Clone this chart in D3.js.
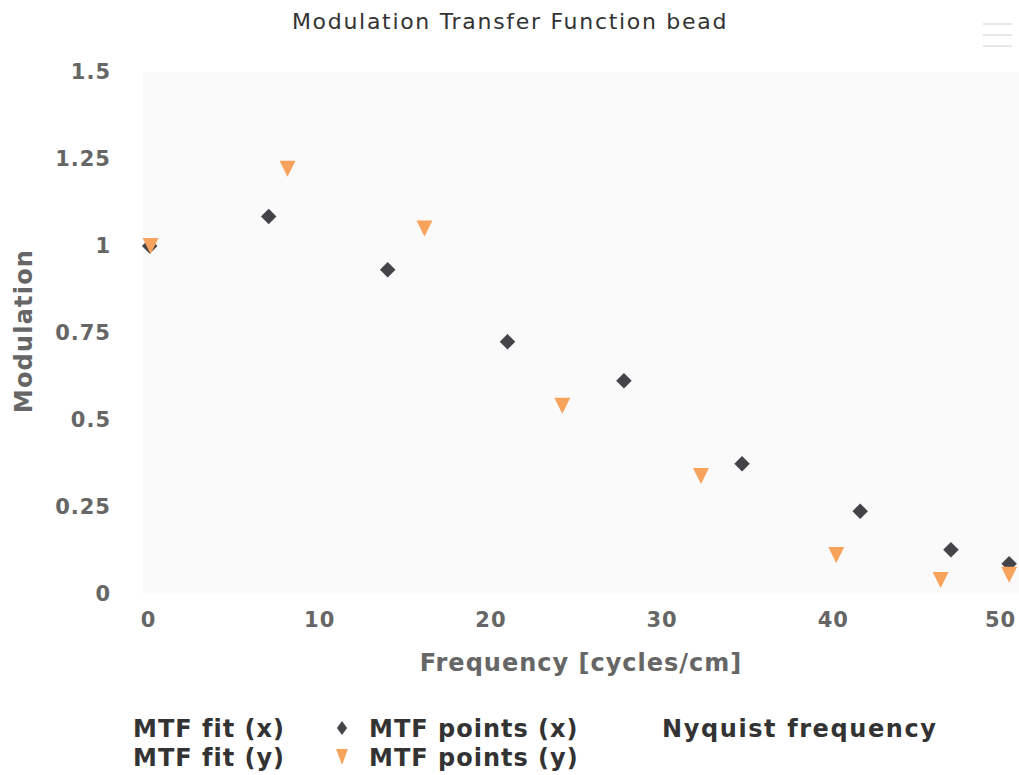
<!DOCTYPE html>
<html>
<head>
<meta charset="utf-8">
<script src="https://cdn.jsdelivr.net/npm/d3@7"></script>
<style>
  body { margin: 0; background: #fff; }
  svg { font-family: "DejaVu Sans", sans-serif; display: block; }
</style>
</head>
<body>
<svg id="chart" width="1019" height="775"></svg>
<script>
// data
var freqX = [0.1, 7.05, 14.0, 21.0, 27.8, 34.7, 41.6, 46.9, 50.3];
var modX  = [1.0, 1.085, 0.932, 0.725, 0.613, 0.374, 0.238, 0.127, 0.087];
var freqY = [0.15, 8.15, 16.15, 24.2, 32.3, 40.2, 46.3, 50.3];
var modY  = [1.0, 1.222, 1.05, 0.541, 0.339, 0.112, 0.04, 0.055];
var yTicks = [0, 0.25, 0.5, 0.75, 1, 1.25, 1.5];
var xTicks = [0, 10, 20, 30, 40, 50];
var legendItems = [
    {name: "MTF fit (x)", symbol: null, col: 0, row: 0},
    {name: "MTF points (x)", symbol: "diamond", col: 1, row: 0},
    {name: "Nyquist frequency", symbol: null, col: 2, row: 0},
    {name: "MTF fit (y)", symbol: null, col: 0, row: 1},
    {name: "MTF points (y)", symbol: "triangle", col: 1, row: 1}
];

var svg = d3.select("#chart"),
    colorX = "#434348", //dark diamonds
    colorY = "#f7a35c", //orange triangles
    plotTop = 72,
    plotBottom = 594,
    plotLeft = 143,
    plotRight = 1019;

var x = d3.scaleLinear().domain([0, 50]).range([148, 1004]);
var y = d3.scaleLinear().domain([0, 1.5]).range([plotBottom, plotTop]);

//plot background
svg.append("rect")
    .attr("x", plotLeft).attr("y", plotTop)
    .attr("width", plotRight - plotLeft).attr("height", plotBottom - plotTop)
    .attr("fill", "#fafafa");

//title
svg.append("text")
    .attr("x", 510).attr("y", 29)
    .attr("text-anchor", "middle")
    .attr("font-size", 22).attr("letter-spacing", 1.7).attr("fill", "#333")
    .text("Modulation Transfer Function bead");

//menu icon
[24, 35, 46].forEach(function (ly) {
    svg.append("line")
        .attr("x1", 983).attr("x2", 1012).attr("y1", ly).attr("y2", ly)
        .attr("stroke", "#d0d0d0").attr("stroke-width", 1);
});

//y axis
var yAxis = svg.append("g")
    .attr("transform", "translate(111,0)")
    .call(d3.axisLeft(y).tickValues(yTicks).tickSize(0).tickPadding(0)
        .tickFormat(function (d) { return String(d); }));
yAxis.select(".domain").remove();
yAxis.selectAll("text")
    .attr("font-family", "DejaVu Sans, sans-serif")
    .attr("font-size", 21).attr("font-weight", "bold").attr("letter-spacing", 1)
    .attr("fill", "#666");

//x axis (last label kept inside the chart)
var xAxis = svg.append("g")
    .attr("transform", "translate(0,612)")
    .call(d3.axisBottom(x).tickValues(xTicks).tickSize(0).tickPadding(0));
xAxis.select(".domain").remove();
xAxis.selectAll("text")
    .attr("font-family", "DejaVu Sans, sans-serif")
    .attr("font-size", 21).attr("font-weight", "bold").attr("letter-spacing", 1)
    .attr("fill", "#666")
    .attr("dx", function (d) { return d === 50 ? -4 : 0; });

//axis titles
svg.append("text")
    .attr("x", 581).attr("y", 671)
    .attr("text-anchor", "middle")
    .attr("font-size", 24).attr("font-weight", "bold").attr("letter-spacing", 1)
    .attr("fill", "#666")
    .text("Frequency [cycles/cm]");

svg.append("text")
    .attr("transform", "translate(32,331) rotate(-90)")
    .attr("text-anchor", "middle")
    .attr("font-size", 24).attr("font-weight", "bold").attr("letter-spacing", 1.2)
    .attr("fill", "#666")
    .text("Modulation");

//markers
var diamond = d3.symbol().type(d3.symbolSquare).size(120);
function triPath(cx, cy) {
    return "M" + (cx - 8) + "," + (cy - 8) + "L" + (cx + 8) + "," + (cy - 8) + "L" + cx + "," + (cy + 8) + "Z";
}

svg.append("g").selectAll("path")
    .data(freqX.map(function (f, i) { return [f, modX[i]]; }))
    .join("path")
    .attr("d", diamond)
    .attr("transform", function (d) { return "translate(" + x(d[0]) + "," + y(d[1]) + ") rotate(45)"; })
    .attr("fill", colorX);

svg.append("g").selectAll("path")
    .data(freqY.map(function (f, i) { return [f, modY[i]]; }))
    .join("path")
    .attr("d", function (d) { return triPath(x(d[0]), y(d[1])); })
    .attr("fill", colorY);

//legend
var colX = [133, 342, 662], rowY = [737, 766];
var leg = svg.append("g");
legendItems.forEach(function (it) {
    var lx = colX[it.col], ly = rowY[it.row];
    var tx = it.symbol ? lx + 27 : lx;
    if (it.symbol === "diamond") {
        leg.append("path")
            .attr("d", d3.symbol().type(d3.symbolSquare).size(72)())
            .attr("transform", "translate(" + lx + "," + (ly - 9) + ") scale(0.85,1.15) rotate(45)")
            .attr("fill", colorX);
    } else if (it.symbol === "triangle") {
        leg.append("path")
            .attr("d", "M" + (lx - 6) + "," + (ly - 17) + "L" + (lx + 6) + "," + (ly - 17) + "L" + lx + "," + (ly - 1) + "Z")
            .attr("fill", colorY);
    }
    leg.append("text")
        .attr("x", tx).attr("y", ly)
        .attr("font-size", 24).attr("font-weight", "bold")
        .attr("letter-spacing", it.col === 2 ? 1.6 : 1)
        .attr("fill", "#333")
        .text(it.name);
});
</script>
</body>
</html>
